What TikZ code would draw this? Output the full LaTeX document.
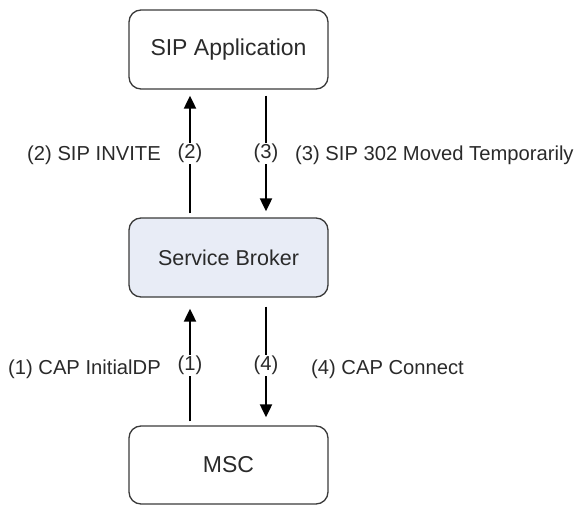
\documentclass[tikz,border=0pt]{standalone}
\usepackage{fontspec}
\setmainfont{Liberation Sans}
\usetikzlibrary{arrows.meta}
\definecolor{boxline}{HTML}{3A3A3A}
\definecolor{brokerfill}{HTML}{E8ECF6}
\definecolor{txt}{HTML}{2A2A2A}
\tikzset{
  entity/.style={draw=boxline, line width=1.3pt, rounded corners=12pt,
    minimum width=199pt, minimum height=79pt, text=txt,
    font=\fontsize{23}{27}\selectfont},
  msg/.style={line width=2pt, -{Triangle[length=13pt,width=12pt]}},
  tag/.style={fill=white, inner sep=1pt, text=txt, font=\fontsize{20.2}{24}\selectfont},
  note/.style={inner sep=0pt, text=txt, font=\fontsize{20.2}{24}\selectfont}
}
\begin{document}
\begin{tikzpicture}[x=1pt,y=-1pt]
  \useasboundingbox (0,0) rectangle (574,506);

  % the three entities
  \node[entity] (app) at (228.5,49.5) {SIP Application};
  \node[entity, fill=brokerfill, font=\fontsize{21.5}{25}\selectfont] (broker) at (228.5,257.5) {Service Broker};
  \node[entity, minimum height=78pt] (msc) at (228.5,465) {MSC};

  % columns for the up and down connectors
  \coordinate (up) at (190,0);
  \coordinate (down) at (266,0);

  % SIP leg
  \draw[msg, shorten <=4pt, shorten >=6pt] (broker.north -| up) -- (app.south -| up)
    node[tag, pos=0.5] (t2) {(2)};
  \draw[msg, shorten <=6pt, shorten >=6pt] (app.south -| down) -- (broker.north -| down)
    node[tag, pos=0.5] (t3) {(3)};

  % CAP leg
  \draw[msg, shorten <=4pt, shorten >=11pt] (msc.north -| up) -- (broker.south -| up)
    node[tag, pos=0.47] (t1) {(1)};
  \draw[msg, shorten <=9pt, shorten >=8pt] (broker.south -| down) -- (msc.north -| down)
    node[tag, pos=0.53] (t4) {(4)};

  % message descriptions
  \node[note, anchor=east] (d2) at (161,155) {(2) SIP INVITE};
  \node[note, anchor=west] (d3) at (295,155) {(3) SIP 302 Moved Temporarily};
  \node[note, anchor=east] (d1) at (161,369) {(1) CAP InitialDP};
  \node[note, anchor=west] (d4) at (311,369) {(4) CAP Connect};
\end{tikzpicture}
\end{document}
